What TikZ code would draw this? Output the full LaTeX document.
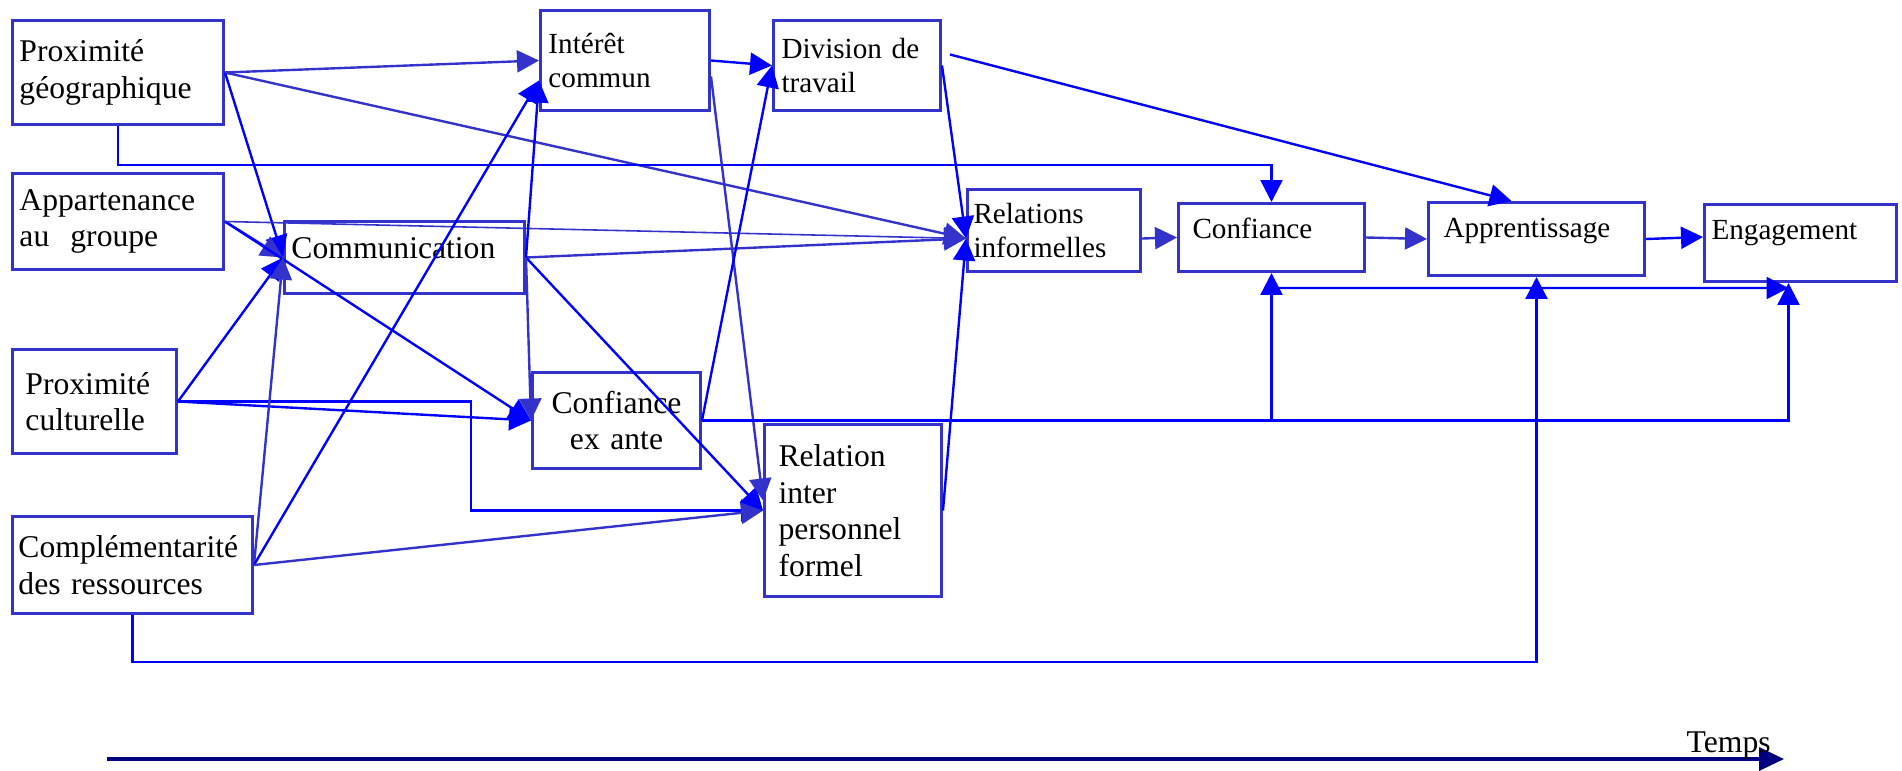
\documentclass[tikz,border=0pt]{standalone}
\usepackage{fontspec}
\setmainfont{Liberation Serif}
\usetikzlibrary{arrows.meta,calc}
\definecolor{bleu}{HTML}{0000FF}
\definecolor{bleuf}{HTML}{3333CC}
\definecolor{marine}{HTML}{000080}
\hyphenpenalty=10000

\begin{document}
\begin{tikzpicture}[
   boite/.style={draw=bleuf, line width=0.85pt, anchor=north west, align=left, inner ysep=0pt},
   grand/.style={font=\fontsize{9}{10.4}\selectfont},
   petit/.style={font=\fontsize{8.3}{9.7}\selectfont},
   fleche/.style={line width=0.68pt, -{Triangle[length=0.22cm,width=0.22cm]}}
]
   \useasboundingbox (0,0) rectangle (19.02,-7.70);

   % facteurs de départ
   \node [boite, grand, inner xsep=0.07cm, text width=1.97cm, minimum height=1.04cm] (pg) at (0.11,-0.19) {Proximité\\géographique};
   \node [boite, grand, inner xsep=0.07cm, text width=1.97cm, minimum height=0.96cm] (ag) at (0.11,-1.72) {Appartenance\\au~ groupe};
   \node [boite, grand, inner xsep=0.13cm, text width=1.38cm, minimum height=1.04cm] (pc) at (0.11,-3.48) {Proximité\\culturelle};
   \node [boite, grand, inner xsep=0.06cm, text width=2.28cm, minimum height=0.97cm] (cr) at (0.11,-5.15) {Complémentarité\\des ressources};

   % étapes intermédiaires
   \node [boite, grand, inner xsep=0.07cm, text width=2.26cm, minimum height=0.72cm, text height=0.21cm, text depth=0.19cm] (com) at (2.83,-2.20) {Communication};
   \node [boite, petit, inner xsep=0.08cm, text width=1.53cm, minimum height=1.00cm] (ic) at (5.39,-0.09) {Intérêt\\commun};
   \node [boite, petit, inner xsep=0.08cm, text width=1.51cm, minimum height=0.90cm] (dt) at (7.72,-0.19) {Division de\\travail};
   \node [boite, grand, align=center, inner xsep=0.10cm, text width=1.48cm, minimum height=0.96cm] (cea) at (5.31,-3.71) {Confiance\\ex ante};
   \node [boite, grand, inner xsep=0.14cm, text width=1.49cm, minimum height=1.72cm] (rip) at (7.63,-4.23) {Relation\\inter\\personnel\\formel};
   \node [boite, petit, inner xsep=0.06cm, text width=1.61cm, minimum height=0.82cm] (ri) at (9.66,-1.88) {Relations\\informelles};

   % aboutissements
   \node [boite, petit, inner xsep=0.14cm, text width=1.58cm, minimum height=0.68cm, text height=0.21cm, text depth=0.19cm] (co) at (11.77,-2.02) {Confiance};
   \node [boite, petit, inner xsep=0.15cm, text width=1.86cm, minimum height=0.73cm, text height=0.21cm, text depth=0.24cm] (ap) at (14.27,-2.01) {Apprentissage};
   \node [boite, petit, inner xsep=0.07cm, text width=1.78cm, minimum height=0.77cm, text height=0.21cm, text depth=0.28cm] (en) at (17.03,-2.03) {Engagement};

   % points d'arrivée
   \coordinate (ri-in) at ([yshift=-0.08cm]ri.west);
   \coordinate (ic-in) at ([yshift=-0.2cm]ic.west);

   % Proximité géographique
   \draw [fleche, bleuf] (pg.east) -- (ic.west);
   \draw [fleche, bleu] (pg.east) -- (com.west);
   \draw [fleche, bleuf] (pg.east) -- (ri-in);
   \draw [fleche, bleu] (pg.south) -- ++(0,-0.39) -| (co.north);

   % Appartenance au groupe
   \draw [fleche, bleuf] (ag.east) -- (com.west);
   \draw [fleche, bleu] (ag.east) -- (cea.west);
   \draw [fleche, bleuf, line width=0.45pt] (ag.east) -- (ri-in);

   % Proximité culturelle
   \draw [fleche, bleu] (pc.east) -- (com.west);
   \draw [fleche, bleu] (pc.east) -- (cea.west);
   \draw [fleche, bleu] (pc.east) -- ++(2.93,0) |- (rip.west);

   % Complémentarité des ressources
   \draw [fleche, bleuf] (cr.east) -- (com.west);
   \draw [fleche, bleu] (cr.east) -- (ic-in);
   \draw [fleche, bleuf] (cr.east) -- (rip.west);
   \draw [fleche, bleu] (cr.south) -- ++(0,-0.47) -| (ap.south);

   % Communication
   \draw [fleche, bleuf] (com.east) -- (ri-in);
   \draw [fleche, bleu] (com.east) -- (rip.west);
   \draw [fleche, bleu] (com.east) -- (ic-in);
   \draw [fleche, bleuf] (com.east) -- (cea.west);

   % Intérêt commun, Confiance ex ante, Division de travail
   \draw [fleche, bleu] (ic.east) -- (dt.west);
   \draw [fleche, bleuf] ([yshift=-0.16cm]ic.east) -- ([yshift=0.1cm]rip.west);
   \draw [fleche, bleu] (cea.east) -- (dt.west);
   \draw [fleche, bleu] (cea.east) -| ([xshift=-0.12cm]en.south);
   \draw [fleche, bleu] (co.south |- cea.east) -- (co.south);
   \draw [fleche, bleu] (dt.east) -- (ri-in);
   \draw [fleche, bleu] ([xshift=0.08cm,yshift=0.11cm]dt.east) -- ([xshift=-0.25cm]ap.north);
   \draw [fleche, bleu] (rip.east) -- (ri-in);

   % chaîne finale
   \draw [fleche, bleuf] ([yshift=-0.08cm]ri.east) -- (co.west);
   \draw [fleche, bleuf] (co.east) -- (ap.west);
   \draw [fleche, bleu] (ap.east) -- ([yshift=0.06cm]en.west);
   \draw [fleche, bleu] ([yshift=-0.15cm]co.south) -- ([xshift=-0.12cm,yshift=-0.05cm]en.south);

   % axe du temps
   \coordinate (t0) at (1.07,-7.59);
   \coordinate (t1) at (17.84,-7.59);
   \draw [line width=1pt, marine, -{Triangle[length=0.25cm,width=0.23cm]}] (t0) -- (t1);
   \node [anchor=base west, inner sep=0pt, font=\fontsize{9}{10.4}\selectfont] (temps) at (16.86,-7.52) {Temps};

\end{tikzpicture}
\end{document}
